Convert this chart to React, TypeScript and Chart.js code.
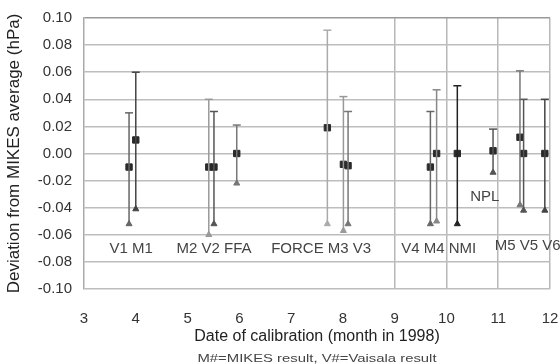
import React, { useEffect, useRef } from "react";
import { Chart, registerables } from "chart.js";

Chart.register(...registerables);

// Measurements (month in 1998, deviation from MIKES average in hPa)
const names = ["V1", "M1", "M2", "V2", "FFA", "FORCE", "M3", "V3", "V4", "M4", "NMI", "NPL", "M5", "V5", "V6"];
const months = [3.87, 4.0, 5.41, 5.51, 5.95, 7.7, 8.01, 8.1, 9.69, 9.81, 10.21, 10.9, 11.42, 11.49, 11.9];
const values = [-0.01, 0.01, -0.01, -0.01, 0.0, 0.019, -0.008, -0.009, -0.01, 0.0, 0.0, 0.002, 0.012, 0.0, 0.0];
const upper = [0.03, 0.06, 0.04, 0.031, 0.021, 0.091, 0.042, 0.031, 0.031, 0.047, 0.05, 0.018, 0.061, 0.04, 0.04];
const lower = [-0.052, -0.041, -0.06, -0.052, -0.022, -0.052, -0.057, -0.052, -0.052, -0.05, -0.052, -0.014, -0.038, -0.042, -0.042];
const colors = ["#666", "#444", "#999", "#555", "#777", "#aaa", "#999", "#777", "#666", "#888", "#222", "#555", "#777", "#555", "#444"];

// Group annotations inside the plot
const groupLabels = ["V1 M1", "M2 V2 FFA", "FORCE M3 V3", "V4 M4 NMI", "M5 V5 V6", "NPL"];
const groupLabelX = [3.91, 5.51, 7.58, 9.85, 11.57, 10.74];
const groupLabelY = [-0.0706, -0.0706, -0.0706, -0.0706, -0.0685, -0.032];

const xTitle = "Date of calibration (month in 1998)";
const yTitle = "Deviation from MIKES average (hPa)";
const footnote = "M#=MIKES result, V#=Vaisala result";

const FONT = "'Liberation Sans', Arial, sans-serif";

export default function App() {
  const ref = useRef<HTMLCanvasElement | null>(null);

  useEffect(() => {
    if (!ref.current) return;

    const barSets = names.map((n, i) => ({
      type: "scatter" as const,
      label: n + " range",
      data: [
        { x: months[i], y: lower[i] },
        { x: months[i], y: upper[i] },
      ],
      showLine: true,
      borderColor: colors[i],
      backgroundColor: colors[i],
      borderWidth: 1.5,
      pointStyle: ["triangle", "line"],
      pointRadius: [3.5, 4],
      pointBorderWidth: [1, 1.5],
      pointBorderColor: colors[i],
      pointBackgroundColor: colors[i],
    }));

    const markerSet = {
      type: "scatter" as const,
      label: "result",
      data: months.map((m, i) => ({ x: m, y: values[i] })),
      pointStyle: "rect",
      pointRadius: 4.5,
      pointBackgroundColor: colors.map(() => "#2a2a2a"),
      pointBorderColor: colors.map(() => "#2a2a2a"),
      pointBorderWidth: 1,
    };

    const annotate = {
      id: "annotate",
      afterDatasetsDraw(chart: any) {
        const { ctx, scales } = chart;
        ctx.save();
        ctx.font = `15px ${FONT}`;
        ctx.fillStyle = "#444";
        ctx.textAlign = "center";
        ctx.textBaseline = "middle";
        groupLabels.forEach((t, i) => {
          ctx.fillText(t, scales.x.getPixelForValue(groupLabelX[i]), scales.y.getPixelForValue(groupLabelY[i]));
        });
        const cx = (chart.chartArea.left + chart.chartArea.right) / 2;
        ctx.translate(cx, 359);
        ctx.scale(1.35, 1);
        ctx.font = `11px ${FONT}`;
        ctx.fillStyle = "#444";
        ctx.fillText(footnote, 0, 0);
        ctx.restore();
      },
    };

    const chart = new Chart(ref.current, {
      type: "scatter",
      data: { datasets: [...barSets, markerSet] as any },
      options: {
        animation: false,
        responsive: false,
        layout: { padding: { top: 18, right: 10, left: 0, bottom: 0 } },
        plugins: { legend: { display: false }, tooltip: { enabled: false } },
        scales: {
          x: {
            type: "linear",
            min: 3,
            max: 12,
            ticks: {
              stepSize: 1,
              padding: 21,
              color: "#333",
              font: { family: FONT, size: 15 },
              callback: (v: any) => String(v),
            },
            grid: {
              drawTicks: false,
              color: (c: any) => (c.tick && c.tick.value >= 9 ? "#b8b8b8" : "rgba(0,0,0,0)"),
              lineWidth: 1.5,
            },
            border: { display: false },
            title: {
              display: true,
              text: xTitle,
              color: "#222",
              font: { family: FONT, size: 16 },
              padding: { top: 0, bottom: 18 },
            },
            afterFit: (s: any) => {
              s.height = 75;
              s.paddingRight = 10;
              s.paddingLeft = 0;
            },
          },
          y: {
            min: -0.1,
            max: 0.1,
            ticks: {
              stepSize: 0.02,
              padding: 12,
              color: "#333",
              font: { family: FONT, size: 15 },
              callback: (v: any) => (Math.abs(v) < 1e-9 ? "0.00" : Number(v).toFixed(2)),
            },
            grid: {
              drawTicks: false,
              color: (c: any) => (c.tick && Math.abs(c.tick.value - 0.1) < 1e-9 ? "#999" : "#bdbdbd"),
              lineWidth: 1.5,
            },
            border: { display: true, color: "#aaa", width: 1.5 },
            title: {
              display: true,
              text: yTitle,
              color: "#222",
              font: { family: FONT, size: 17 },
              padding: { top: 4, bottom: 0 },
            },
            afterFit: (s: any) => {
              s.width = 84;
              s.paddingTop = 18;
              s.paddingBottom = 0;
            },
          },
        },
      },
      plugins: [annotate],
    });
    return () => chart.destroy();
  }, []);

  return (
    <div style={{ position: "fixed", left: 0, top: 0, width: 560, height: 364, background: "#fff" }}>
      <canvas ref={ref} width={560} height={364} />
    </div>
  );
}
